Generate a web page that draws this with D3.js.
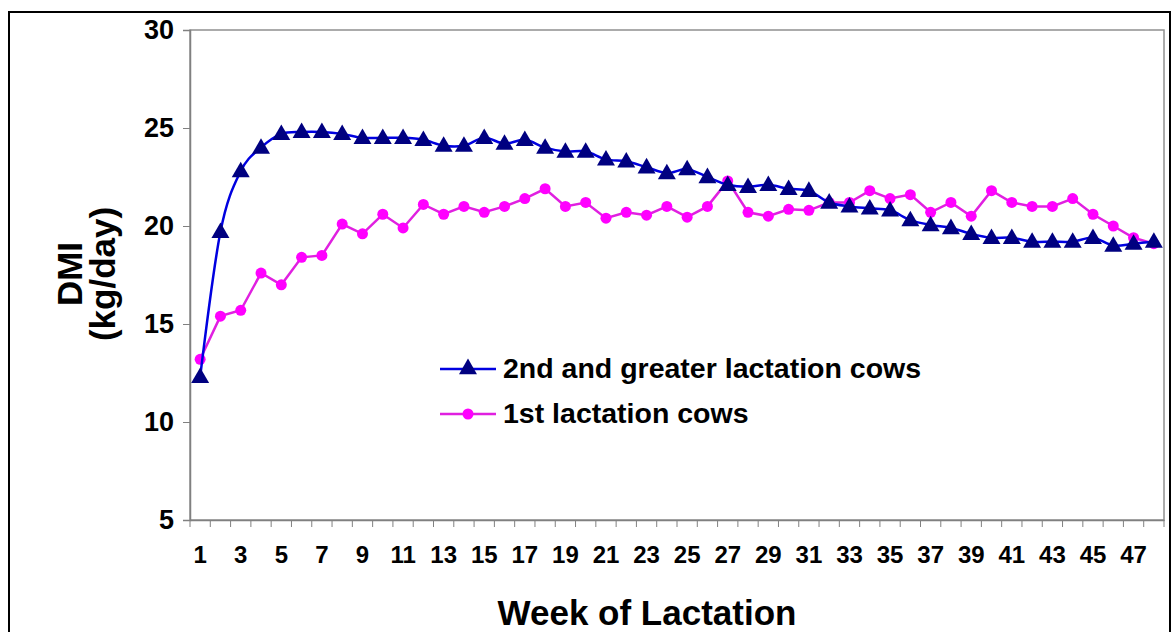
<!DOCTYPE html>
<html>
<head>
<meta charset="utf-8">
<script src="https://cdn.jsdelivr.net/npm/d3@7"></script>
<style>
  body { margin: 0; background: #fff; }
  svg { display: block; font-family: "Liberation Sans", Arial, sans-serif; }
  .axis text { font-weight: bold; fill: #000; }
  .axis path, .axis line { stroke: #808080; }
</style>
</head>
<body>
<svg id="chart" width="1173" height="632"></svg>
<script>
// weeks of lactation
var weeks = d3.range(1, 49);
var xTickLabels = d3.range(1, 49, 2);
var yTicks = [5, 10, 15, 20, 25, 30];

// DMI (kg/day)
var olderCows = [12.3, 19.7, 22.8, 24.0, 24.7, 24.8, 24.8, 24.7, 24.5, 24.5,
                 24.5, 24.4, 24.1, 24.1, 24.5, 24.2, 24.4, 24.0, 23.8, 23.8,
                 23.4, 23.3, 23.0, 22.7, 22.9, 22.5, 22.1, 22.0, 22.1, 21.9,
                 21.8, 21.2, 21.0, 20.9, 20.8, 20.3, 20.05, 19.9, 19.6, 19.4,
                 19.4, 19.2, 19.2, 19.2, 19.4, 19.0, 19.1, 19.2];
var firstCows = [13.2, 15.4, 15.7, 17.6, 17.0, 18.4, 18.5, 20.1, 19.6, 20.6,
                 19.9, 21.1, 20.6, 21.0, 20.7, 21.0, 21.4, 21.9, 21.0, 21.2,
                 20.4, 20.7, 20.55, 21.0, 20.45, 21.0, 22.3, 20.7, 20.5, 20.85,
                 20.8, 21.2, 21.2, 21.8, 21.4, 21.6, 20.7, 21.2, 20.5, 21.8,
                 21.2, 21.0, 21.0, 21.4, 20.6, 20.0, 19.4, 19.1];

var svg = d3.select("#chart");

// outer frame
svg.append("rect")
    .attr("x", 9).attr("y", 12)
    .attr("width", 1161).attr("height", 640)
    .attr("fill", "none").attr("stroke", "#000").attr("stroke-width", 2);

var pLeft = 190, pRight = 1164, pTop = 30, pBottom = 520;

var x = d3.scaleBand().domain(weeks).range([pLeft, pRight]);
var y = d3.scaleLinear().domain([5, 30]).range([pBottom, pTop]);

// plot area frame
svg.append("rect")
    .attr("x", pLeft).attr("y", pTop)
    .attr("width", pRight - pLeft).attr("height", pBottom - pTop)
    .attr("fill", "none").attr("stroke", "#909090").attr("stroke-width", 1.5);

// x axis
var xAxis = svg.append("g")
    .attr("class", "axis")
    .attr("transform", `translate(0,${pBottom})`)
    .call(d3.axisBottom(x).tickValues(xTickLabels).tickSize(0).tickPadding(26));
xAxis.select(".domain").attr("stroke-width", 1.5);
xAxis.selectAll("text").style("font-size", "24px");

// tick marks between categories
svg.append("g")
    .selectAll("line")
    .data(weeks.concat([49]))
    .enter().append("line")
      .attr("x1", d => d === 49 ? pRight : x(d))
      .attr("x2", d => d === 49 ? pRight : x(d))
      .attr("y1", pBottom).attr("y2", pBottom + 7)
      .attr("stroke", "#808080");

// y axis
var yAxis = svg.append("g")
    .attr("class", "axis")
    .attr("transform", `translate(${pLeft},0)`)
    .call(d3.axisLeft(y).tickValues(yTicks).tickSize(7).tickPadding(9));
yAxis.select(".domain").attr("stroke-width", 1.5);
yAxis.selectAll("text").style("font-size", "27px");

var cx = d => x(d) + x.bandwidth() / 2;

// 1st lactation line
svg.append("path")
    .datum(firstCows)
    .attr("fill", "none")
    .attr("stroke", "#e020e0")
    .attr("stroke-width", 2.5)
    .attr("d", d3.line().x((d, i) => cx(weeks[i])).y(d => y(d)));

svg.append("g")
    .selectAll("circle")
    .data(firstCows)
    .enter().append("circle")
      .attr("cx", (d, i) => cx(weeks[i]))
      .attr("cy", d => y(d))
      .attr("r", 5.5)
      .attr("fill", "#ff00ff");

// 2nd and greater line (smoothed)
svg.append("path")
    .datum(olderCows)
    .attr("fill", "none")
    .attr("stroke", "#0000e0")
    .attr("stroke-width", 2.5)
    .attr("d", d3.line().curve(d3.curveCatmullRom.alpha(0))
        .x((d, i) => cx(weeks[i])).y(d => y(d)));

var tri = d3.symbol().type(d3.symbolTriangle).size(140);

svg.append("g")
    .selectAll("path")
    .data(olderCows)
    .enter().append("path")
      .attr("d", tri)
      .attr("transform", (d, i) => `translate(${cx(weeks[i])},${y(d) + 1})`)
      .attr("fill", "#000080");

// legend
var legend = [
  {label: "2nd and greater lactation cows", line: "#0000e0", mark: "tri", ly: 369},
  {label: "1st lactation cows", line: "#e020e0", mark: "dot", ly: 414}
];
legend.forEach(function(l) {
  svg.append("line")
      .attr("x1", 440).attr("x2", 496)
      .attr("y1", l.ly).attr("y2", l.ly)
      .attr("stroke", l.line).attr("stroke-width", 2.5);
  if (l.mark === "tri") {
    svg.append("path").attr("d", tri)
        .attr("transform", `translate(468,${l.ly})`)
        .attr("fill", "#000080");
  } else {
    svg.append("circle").attr("cx", 468).attr("cy", l.ly).attr("r", 5.5)
        .attr("fill", "#ff00ff");
  }
  svg.append("text")
      .attr("x", 503).attr("y", l.ly + 9)
      .style("font-size", "28.5px").style("font-weight", "bold")
      .text(l.label);
});

// axis titles
svg.append("text")
    .attr("x", 647).attr("y", 625)
    .attr("text-anchor", "middle")
    .style("font-size", "35px").style("font-weight", "bold")
    .text("Week of Lactation");

svg.append("text")
    .attr("transform", "translate(82,274) rotate(-90)")
    .attr("text-anchor", "middle")
    .style("font-size", "35px").style("font-weight", "bold")
    .text("DMI");

svg.append("text")
    .attr("transform", "translate(115,274) rotate(-90)")
    .attr("text-anchor", "middle")
    .style("font-size", "35px").style("font-weight", "bold")
    .text("(kg/day)");
</script>
</body>
</html>
